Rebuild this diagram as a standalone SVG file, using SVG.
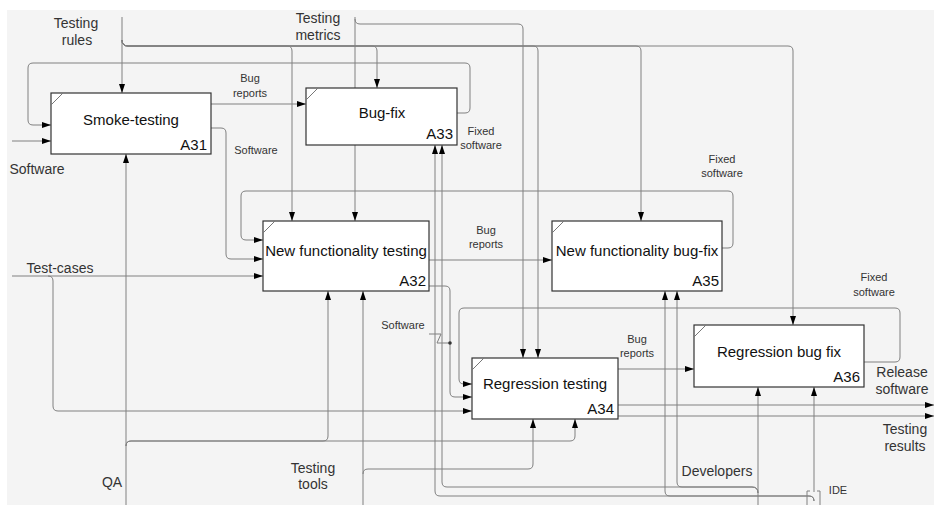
<svg xmlns="http://www.w3.org/2000/svg" width="934" height="505" viewBox="0 0 934 505">
<defs>
<marker id="ah" markerWidth="9" markerHeight="6" refX="9" refY="3" orient="auto" markerUnits="userSpaceOnUse">
<path d="M0,0 L9,3 L0,6 z" fill="#000"/>
</marker>
<style>
.bg{fill:#f4f4f4}
.box{fill:#fff;stroke:#333;stroke-width:1.2}
.corner{stroke:#777;stroke-width:1;fill:none}
.c{fill:none;stroke:#808080;stroke-width:1}
.a{marker-end:url(#ah)}
.t{font-family:"Liberation Sans",Arial,sans-serif;font-size:15px;fill:#111;text-anchor:middle}
.id{font-family:"Liberation Sans",Arial,sans-serif;font-size:15px;fill:#111;text-anchor:end}
.l{font-family:"Liberation Sans",Arial,sans-serif;font-size:14px;fill:#333;text-anchor:middle}
.s{font-family:"Liberation Sans",Arial,sans-serif;font-size:11px;fill:#333;text-anchor:middle}
</style>
</defs>
<rect x="0" y="0" width="934" height="505" fill="#fff"/>
<rect class="bg" x="7" y="10" width="927" height="495"/>

<g id="connectors">
<!-- Testing rules -->
<path class="c a" d="M122 17 V93"/>
<path class="c a" d="M122 40 Q122 46 128 46 H287 Q292 46 292 51 V221"/>
<path class="c a" d="M122 40 Q122 46 128 46 H372 Q377 46 377 51 V88"/>
<path class="c a" d="M122 40 Q122 46 128 46 H533 Q538 46 538 51 V358"/>
<path class="c a" d="M122 40 Q122 46 128 46 H636 Q641 46 641 51 V221"/>
<path class="c a" d="M122 40 Q122 46 128 46 H788 Q793 46 793 51 V325"/>
<!-- Testing metrics -->
<path class="c a" d="M355 17 V221"/>
<path class="c a" d="M355 19 Q355 24 360 24 H518 Q523 24 523 29 V358"/>
<!-- Software input -->
<path class="c a" d="M12 141 H51"/>
<!-- A31 outputs -->
<path class="c a" d="M211 104 H306"/>
<path class="c a" d="M211 128 H221 Q226 128 226 133 V254 Q226 259 231 259 H263"/>
<!-- A33 fixed software loop -->
<path class="c a" d="M457 113 H465 Q470 113 470 108 V68 Q470 63 465 63 H33 Q28 63 28 68 V120 Q28 125 33 125 H51"/>
<!-- A35 fixed software loop -->
<path class="c a" d="M722 248 H728 Q733 248 733 243 V196 Q733 191 728 191 H246 Q241 191 241 196 V235 Q241 240 246 240 H263"/>
<!-- A32 outputs -->
<path class="c a" d="M429 260 H552"/>
<path class="c a" d="M429 286 H445 Q450 286 450 291 V392 Q450 397 455 397 H472"/>
<path class="c" d="M429 334 H441 L437 343 H450"/>
<circle cx="450" cy="343" r="1.8" fill="#333"/>
<!-- A36 fixed software loop -->
<path class="c a" d="M864 362 H895 Q900 362 900 357 V313 Q900 308 895 308 H464 Q459 308 459 313 V379 Q459 384 464 384 H472"/>
<!-- A34 outputs -->
<path class="c a" d="M618 369 H694"/>
<path class="c a" d="M618 405 H934"/>
<path class="c a" d="M618 416 H934"/>
<!-- Test-cases -->
<path class="c a" d="M12 276 H263"/>
<path class="c a" d="M48 276 Q53 276 53 281 V406 Q53 411 58 411 H472"/>
<!-- QA -->
<path class="c a" d="M126 505 V154"/>
<path class="c a" d="M126 446 Q126 441 131 441 H323 Q328 441 328 436 V291"/>
<path class="c a" d="M126 446 Q126 441 131 441 H570 Q575 441 575 436 V419"/>
<!-- Testing tools -->
<path class="c a" d="M363 505 V291"/>
<path class="c a" d="M363 474 Q363 469 368 469 H528 Q533 469 533 464 V419"/>
<!-- Developers -->
<path class="c a" d="M758 505 V387"/>
<path class="c a" d="M758 493 Q758 487 752 487 H682 Q677 487 677 482 V291"/>
<path class="c a" d="M758 493 Q758 487 752 487 H447 Q442 487 442 482 V145"/>
<!-- IDE -->
<path class="c a" d="M814 492 V387"/>
<path class="c a" d="M814 501 Q814 496 809 496 H670 Q665 496 665 491 V291"/>
<path class="c a" d="M814 501 Q814 496 809 496 H440 Q435 496 435 491 V145"/>
<path class="c" d="M810 491 H807 V505 M817 491 H820 V505"/>
</g>

<g id="A31">
<rect class="box" x="51" y="93" width="160" height="61"/>
<path class="corner" d="M51 105 L63 93"/>
<text class="t" x="131" y="125">Smoke-testing</text>
<text class="id" x="207" y="150">A31</text>
</g>
<g id="A33">
<rect class="box" x="306" y="88" width="151" height="57"/>
<path class="corner" d="M306 100 L318 88"/>
<text class="t" x="382" y="118">Bug-fix</text>
<text class="id" x="453" y="139">A33</text>
</g>
<g id="A32">
<rect class="box" x="263" y="221" width="166" height="70"/>
<path class="corner" d="M263 233 L275 221"/>
<text class="t" x="346" y="256">New functionality testing</text>
<text class="id" x="426" y="286">A32</text>
</g>
<g id="A35">
<rect class="box" x="552" y="221" width="170" height="70"/>
<path class="corner" d="M552 233 L564 221"/>
<text class="t" x="637" y="256">New functionality bug-fix</text>
<text class="id" x="719" y="286">A35</text>
</g>
<g id="A34">
<rect class="box" x="472" y="358" width="146" height="61"/>
<path class="corner" d="M472 370 L484 358"/>
<text class="t" x="545" y="389">Regression testing</text>
<text class="id" x="614" y="414">A34</text>
</g>
<g id="A36">
<rect class="box" x="694" y="325" width="170" height="62"/>
<path class="corner" d="M694 337 L706 325"/>
<text class="t" x="779" y="357">Regression bug fix</text>
<text class="id" x="860" y="382">A36</text>
</g>

<g id="labels">
<text class="l" x="76" y="28">Testing</text>
<text class="l" x="77" y="45">rules</text>
<text class="l" x="318" y="23">Testing</text>
<text class="l" x="318" y="40">metrics</text>
<text class="l" x="37" y="174">Software</text>
<text class="l" x="60" y="273">Test-cases</text>
<text class="l" x="112" y="487">QA</text>
<text class="l" x="313" y="473">Testing</text>
<text class="l" x="313" y="489">tools</text>
<text class="l" x="717" y="476">Developers</text>
<text class="s" x="838" y="494">IDE</text>
<text class="l" x="902" y="377">Release</text>
<text class="l" x="902" y="394">software</text>
<text class="l" x="905" y="434">Testing</text>
<text class="l" x="905" y="451">results</text>
<text class="s" x="250" y="82">Bug</text>
<text class="s" x="250" y="97">reports</text>
<text class="s" x="256" y="154">Software</text>
<text class="s" x="481" y="135">Fixed</text>
<text class="s" x="481" y="149">software</text>
<text class="s" x="722" y="163">Fixed</text>
<text class="s" x="722" y="177">software</text>
<text class="s" x="486" y="234">Bug</text>
<text class="s" x="486" y="248">reports</text>
<text class="s" x="403" y="329">Software</text>
<text class="s" x="637" y="343">Bug</text>
<text class="s" x="637" y="357">reports</text>
<text class="s" x="874" y="281">Fixed</text>
<text class="s" x="874" y="296">software</text>
</g>
</svg>
